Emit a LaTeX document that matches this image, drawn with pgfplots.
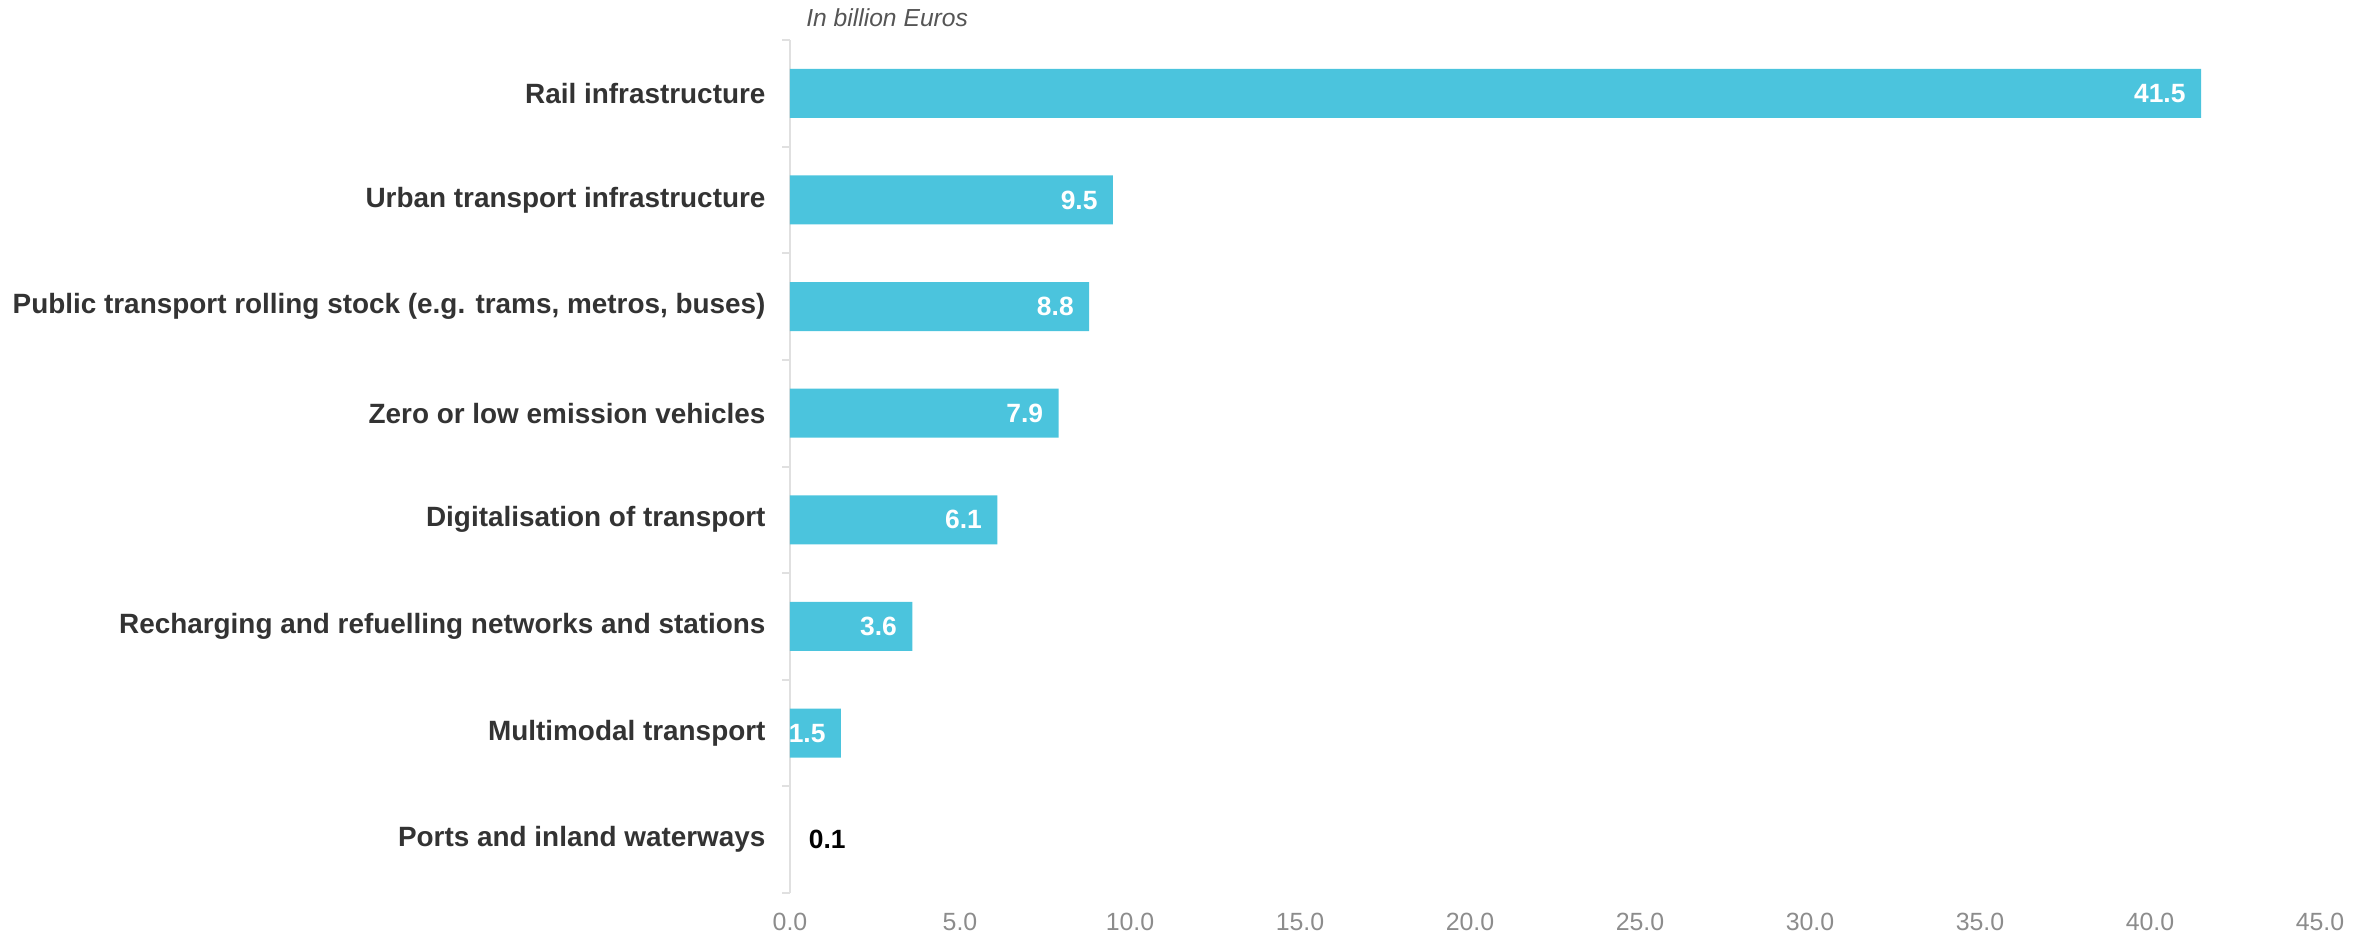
\documentclass[border=0pt]{standalone}
\usepackage{fontspec}
\setmainfont{Liberation Sans}
\usepackage{pgfplots}
\pgfplotsset{compat=1.18}
\definecolor{barblue}{RGB}{75,196,221}
\definecolor{axgray}{RGB}{224,224,224}
\definecolor{ticklab}{RGB}{140,140,140}
\definecolor{catlab}{RGB}{51,51,51}
\definecolor{unitlab}{RGB}{85,85,85}
\begin{document}
\begin{tikzpicture}
\useasboundingbox (-316bp,-16.4bp) rectangle (632.4bp,357.2bp);
\begin{axis}[
  at={(0,0)}, anchor=south west,
  scale only axis, width=612bp, height=341.2bp,
  xmin=0, xmax=45, ymin=-0.5, ymax=7.5,
  clip=false,
  xbar, bar width=19.6bp, bar shift=0pt,
  axis x line*=bottom, axis y line*=left,
  x axis line style={draw=none},
  y axis line style={draw=axgray, line width=0.8bp, -},
  /pgf/number format/assume math mode=true,
  xtick={0,5,...,45},
  major tick length=0pt,
  minor tick length=3.2bp,
  tick align=outside,
  xticklabel style={text=ticklab, font=\fontsize{10}{12}\selectfont, inner sep=0pt, yshift=-8bp,
    /pgf/number format/fixed, /pgf/number format/fixed zerofill, /pgf/number format/precision=1},
  ytick={0,1,2,3,4,5,6,7},
  yticklabels={Ports and inland waterways, Multimodal transport, Recharging and refuelling networks and stations, Digitalisation of transport, Zero or low emission vehicles, {Public transport rolling stock (e.g. trams, metros, buses)}, Urban transport infrastructure, Rail infrastructure},
  yticklabel style={text=catlab, font=\bfseries\fontsize{11.2}{13}\selectfont, inner sep=0pt, xshift=-9.6bp},
  minor ytick={-0.5,0.5,1.5,2.5,3.5,4.5,5.5,6.5,7.5},
  major tick style={draw=none},
  minor y tick style={draw=axgray, line width=0.8bp},
]
\addplot[fill=barblue, draw=none, point meta=x, nodes near coords,
  every node near coord/.append style={anchor=east, text=white, inner sep=0pt, xshift=-6bp,
    font=\bfseries\fontsize{10.6}{12}\selectfont,
    /pgf/number format/fixed, /pgf/number format/fixed zerofill, /pgf/number format/precision=1}]
  coordinates {(41.5,7) (9.5,6) (8.8,5) (7.9,4) (6.1,3) (3.6,2) (1.5,1)};
\addplot[fill=none, draw=none, point meta=x, nodes near coords,
  every node near coord/.append style={anchor=west, text=black, inner sep=0pt, xshift=6bp,
    font=\bfseries\fontsize{10.6}{12}\selectfont,
    /pgf/number format/fixed, /pgf/number format/fixed zerofill, /pgf/number format/precision=1}]
  coordinates {(0.1,0)};
\node[anchor=base west, font=\itshape\fontsize{9.9}{12}\selectfont, text=unitlab, xshift=3bp, yshift=5.6bp] at (rel axis cs:0,1) {In billion Euros};
\end{axis}
\end{tikzpicture}
\end{document}
